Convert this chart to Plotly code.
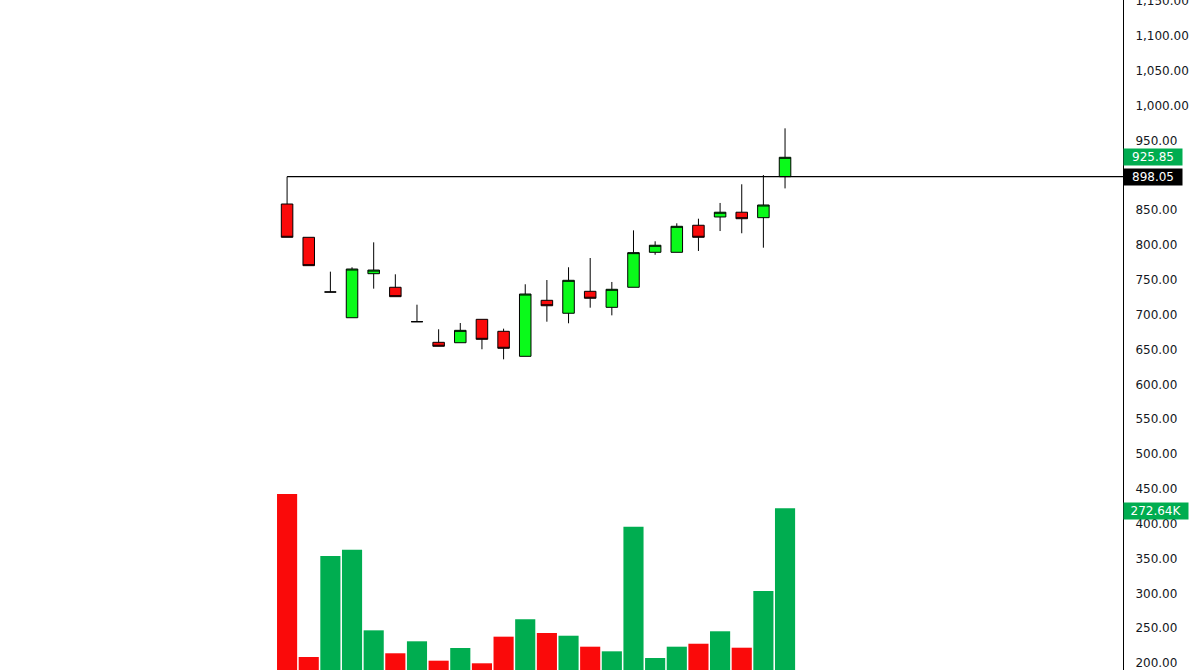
import plotly.graph_objects as go

# ---- data ----
idx = list(range(24))
opens  = [858.8, 811.0, 732.5, 695.6, 758.8, 739.3, 689.9, 660.3, 659.7, 693.3, 676.1, 640.2,
          720.6, 702.0, 733.5, 710.5, 739.3, 789.5, 789.5, 828.3, 840.2, 847.0, 839.2, 898.05]
highs  = [898.05, 811.0, 761.7, 768.0, 803.8, 757.9, 714.3, 679.0, 688.0, 693.3, 679.9, 743.6,
          749.7, 768.0, 781.3, 746.9, 821.0, 805.3, 831.1, 837.7, 860.3, 887.1, 900.4, 967.4]
lows   = [811.0, 770.3, 732.5, 695.6, 737.3, 725.8, 689.9, 654.6, 659.7, 650.3, 635.9, 640.2,
          689.9, 687.6, 710.0, 699.0, 739.3, 786.0, 789.5, 791.4, 820.0, 816.8, 796.1, 881.2]
closes = [811.0, 770.3, 732.5, 765.5, 764.0, 725.8, 689.9, 654.6, 677.5, 664.6, 651.7, 729.6,
          712.8, 749.3, 723.5, 736.4, 789.0, 799.6, 826.8, 811.0, 847.0, 837.7, 857.4, 925.85]
volumes_k = [296.8, 21.9, 192.2, 202.8, 66.9, 28.2, 48.4, 15.7, 37.1, 11.3, 56.2, 85.5,
             62.4, 57.8, 39.3, 31.5, 241.6, 20.2, 39.3, 44.3, 65.3, 37.6, 133.2, 272.64]
level = 898.05
price_ticks = list(range(200, 1151, 50))

# ---- styles ----
UP_FILL = "#0AFA1A"
DN_FILL = "#FA0A0A"
VOL_UP = "#00AD50"
VOL_DN = "#FA0A0A"

vol_colors = [VOL_UP if c >= o else VOL_DN for o, c in zip(opens, closes)]

fig = go.Figure()

fig.add_trace(go.Bar(
    x=idx, y=volumes_k, yaxis="y2",
    marker=dict(color=vol_colors, line=dict(width=0)),
    width=0.93, showlegend=False, hoverinfo="skip",
))

fig.add_trace(go.Candlestick(
    x=idx, open=opens, high=highs, low=lows, close=closes,
    increasing=dict(fillcolor=UP_FILL, line=dict(color="#000000", width=1)),
    decreasing=dict(fillcolor=DN_FILL, line=dict(color="#000000", width=1)),
    whiskerwidth=0, showlegend=False,
))

# horizontal level line from first candle
fig.add_shape(type="line", xref="x", yref="y", x0=idx[0], x1=38.61, y0=level, y1=level,
              line=dict(color="#000000", width=1.3))

# right-side labels
lab_font = dict(family="DejaVu Sans", size=12, color="white")
fig.add_annotation(xref="paper", x=1, xanchor="left", xshift=0, yref="y", y=closes[-1],
                   text=f"{closes[-1]:,.2f}", showarrow=False, bgcolor=VOL_UP,
                   font=lab_font, borderpad=0, width=58, height=16, align="center")
fig.add_annotation(xref="paper", x=1, xanchor="left", xshift=0, yref="y", y=level,
                   text=f"{level:,.2f}", showarrow=False, bgcolor="#000000",
                   font=lab_font, borderpad=0, width=58, height=16, align="center")
fig.add_annotation(xref="paper", x=1, xanchor="left", xshift=0, yref="y2", y=volumes_k[-1],
                   yshift=-3,
                   text=f"{volumes_k[-1]:.2f}K", showarrow=False, bgcolor=VOL_UP,
                   font=lab_font, borderpad=0, width=64, height=16, align="center")

fig.update_layout(
    width=1200, height=670,
    margin=dict(l=0, r=77, t=0, b=0, pad=0, autoexpand=False),
    paper_bgcolor="white", plot_bgcolor="white",
    boxgap=0.24,
    xaxis=dict(range=[-13.26, 38.61], visible=False, rangeslider=dict(visible=False),
               automargin=False),
    yaxis=dict(side="right", range=[190, 1151.6], showgrid=False, zeroline=False,
               showline=True, linecolor="#000000", linewidth=1, automargin=False,
               tickvals=price_ticks, ticktext=[f"{v:,.2f}" for v in price_ticks],
               ticks="", ticklabelstandoff=9, ticklabeloverflow="allow",
               tickfont=dict(family="DejaVu Sans", size=12, color="#131722")),
    yaxis2=dict(overlaying="y", range=[0, 1129.8], visible=False, automargin=False),
    font=dict(family="DejaVu Sans"),
)

fig.write_html(
    "out.html",
    config={"displayModeBar": False},
    post_script="document.body.style.margin='0';document.body.style.padding='0';"
                "document.body.style.overflow='hidden';",
)
